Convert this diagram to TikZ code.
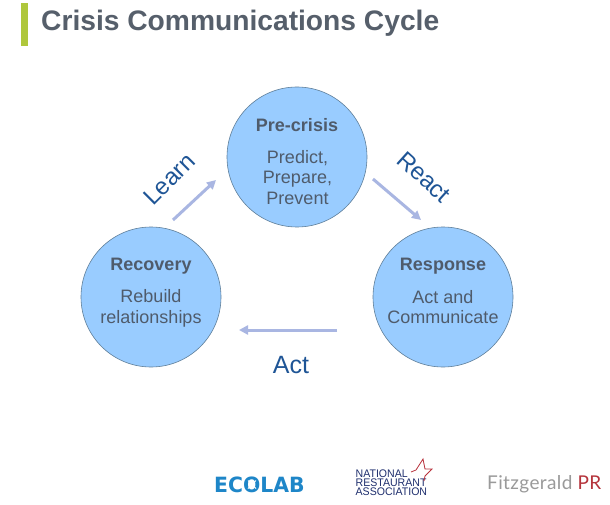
\documentclass[tikz,border=0pt]{standalone}
\usepackage{fontspec}
\setmainfont{Liberation Sans}
\newfontfamily\thinfont[LetterSpace=2]{Lato}
\newfontfamily\ecofont{DejaVu Sans}
\usetikzlibrary{arrows.meta}
\definecolor{titlegray}{HTML}{565F6B}
\definecolor{circfill}{HTML}{99CCFF}
\definecolor{circline}{HTML}{5F7F99}
\definecolor{txtgray}{HTML}{4F5B6B}
\definecolor{arrowc}{HTML}{A9B6E2}
\definecolor{lblblue}{HTML}{1F5596}
\definecolor{barc}{HTML}{AFC73C}
\definecolor{ecoblue}{HTML}{1E86C8}
\definecolor{navy}{HTML}{1F2F6E}
\definecolor{nrared}{HTML}{B8323C}
\definecolor{fitzgray}{HTML}{9A9A9A}
\definecolor{fitzred}{HTML}{B5343C}
\tikzset{
 phase/.style={circle,draw=circline,line width=0.6pt,fill=circfill,minimum size=140pt,inner sep=0pt},
 flow/.style={draw=arrowc,line width=3pt,-{Triangle[length=9pt,width=9pt]}},
 hd/.style={font=\fontsize{18}{18}\selectfont\bfseries,text=txtgray,anchor=center},
 bd/.style={font=\fontsize{18}{20.5}\selectfont,text=txtgray,align=center,anchor=center},
 lbl/.style={font=\fontsize{25}{25}\selectfont,text=lblblue,anchor=center},
 lblr/.style={font=\fontsize{24}{24}\selectfont,text=lblblue,anchor=center}
}
\begin{document}
\begin{tikzpicture}[x=1pt,y=-1pt]
\useasboundingbox (0,0) rectangle (610,505);
\fill[white] (0,0) rectangle (610,505);
\fill[barc] (21,3) rectangle (27.5,46);
\node[anchor=west,inner sep=0pt,text=titlegray,font=\fontsize{28.2}{28.2}\selectfont\bfseries] (title) at (41,23) {Crisis Communications Cycle};
\node[phase] (pre) at (297,157) {};
\node[phase] (rec) at (151,297) {};
\node[phase] (res) at (443,297) {};
\node[hd] (preh) at (297,125) {Pre-crisis};
\node[bd] (preb) at (297.5,177.5) {Predict,\\Prepare,\\Prevent};
\node[hd] (rech) at (151,266) {Recovery};
\node[bd] (recb) at (151,308.5) {Rebuild\\relationships};
\node[hd] (resh) at (443,266) {Response};
\node[bd] (resb) at (443,307) {Act and\\Communicate};
\coordinate (a1) at (173,220); \coordinate (a2) at (216,180);
\coordinate (b1) at (373,179); \coordinate (b2) at (421,220);
\coordinate (c1) at (337,330); \coordinate (c2) at (239,330);
\draw[flow] (a1) -- (a2);
\draw[flow] (b1) -- (b2);
\draw[flow] (c1) -- (c2);
\node[lblr,rotate=45] (learn) at (169.5,179) {Learn};
\node[lblr,rotate=-42] (react) at (424,177) {React};
\node[lbl] (act) at (291,365) {Act};
% logos
\node[anchor=west,inner sep=0pt,text=ecoblue,font=\fontsize{21}{21}\selectfont\ecofont\bfseries,xscale=0.97] (eco) at (214,484.5) {ECOLAB};
\draw[white,line width=0.9pt] (248,480.5) -- (256,488.5) (256,480.5) -- (248,488.5);
\node[anchor=north west,inner sep=0pt,text=navy,align=left,xscale=0.96,font=\fontsize{11}{9}\selectfont] (nra) at (355.5,469.5) {NATIONAL\\RESTAURANT\\ASSOCIATION};
\draw[nrared,line width=0.8pt,line join=miter] (411,472) -- (416,470) -- (423,459) -- (425,469) -- (432,469) -- (425,476) -- (424,481);
\node[anchor=west,inner sep=0pt,text=fitzgray,font=\fontsize{19}{19}\selectfont\thinfont] (fitz) at (487,484) {Fitzgerald \textcolor{fitzred}{PR}};
\end{tikzpicture}
\end{document}
